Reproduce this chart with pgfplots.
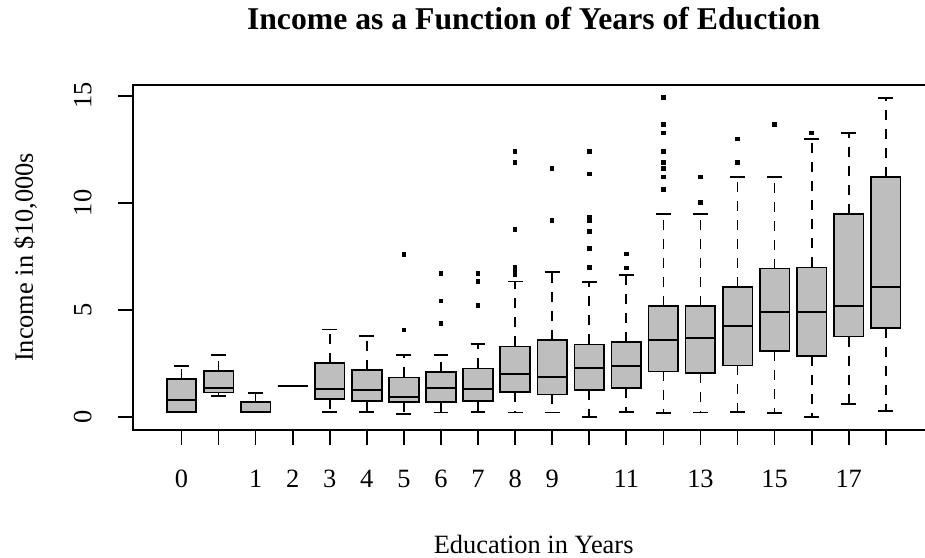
\documentclass[border=0pt]{standalone}
\usepackage{fontspec}
\setmainfont{Liberation Serif}
\usepackage{pgfplots}
\pgfplotsset{compat=1.18}
\usepgfplotslibrary{statistics}
\definecolor{boxgray}{HTML}{BEBEBE}
\newcommand\fsz{\fontsize{13.2}{16}\selectfont}
\begin{document}
\begin{tikzpicture}
\path[use as bounding box] (0,0) rectangle (462.5pt,278.5pt);
\clip (0,0) rectangle (462.5pt,278.5pt);
\begin{axis}[
  at={(66.65pt,63.5pt)}, anchor=south west,
  scale only axis, width=400.35pt, height=172.5pt,
  xmin=-0.3, xmax=21.3, ymin=-0.59, ymax=15.5,
  xtick={1,...,20},
  xticklabels={0,,1,2,3,4,5,6,7,8,9,,11,,13,,15,,17,},
  ytick={0,5,10,15},
  xtick pos=bottom, ytick pos=left,
  tick align=outside, major tick length=7.5pt,
  tick style={black, line width=0.85pt},
  axis line style={line width=0.85pt},
  /pgf/number format/assume math mode=true,
  tick label style={font=\fsz},
  xticklabel style={anchor=base},
  xticklabel shift=21pt,
  yticklabel style={rotate=90, anchor=base},
  yticklabel shift=13.5pt,
  title={Income as a Function of Years of Eduction},
  title style={font=\bfseries\fontsize{15.85}{19}\selectfont, at={(axis description cs:0.5,1)}, anchor=base, yshift=21.5pt},
  xlabel={Education in Years},
  xlabel style={font=\fsz, at={(axis description cs:0.5,0)}, anchor=base, yshift=-61.5pt},
  ylabel={Income in \$10,000s},
  ylabel style={font=\fsz, at={(axis description cs:-0.1253,0.5)}, anchor=base},
  boxplot/draw direction=y,
  boxplot/box extend=0.8,
  boxplot/whisker extend=0.4,
  boxplot/every box/.style={fill=boxgray},
  boxplot/every median/.style={line width=1pt},
  boxplot/draw/lower whisker/.code={%
    \draw[dash pattern=on 5pt off 4.5pt] (boxplot cs:\pgfplotsboxplotvalue{lower quartile}) -- (boxplot cs:\pgfplotsboxplotvalue{lower whisker});
    \draw (boxplot whisker cs:\pgfplotsboxplotvalue{lower whisker},0) -- (boxplot whisker cs:\pgfplotsboxplotvalue{lower whisker},1);
  },
  boxplot/draw/upper whisker/.code={%
    \draw[dash pattern=on 5pt off 4.5pt] (boxplot cs:\pgfplotsboxplotvalue{upper quartile}) -- (boxplot cs:\pgfplotsboxplotvalue{upper whisker});
    \draw (boxplot whisker cs:\pgfplotsboxplotvalue{upper whisker},0) -- (boxplot whisker cs:\pgfplotsboxplotvalue{upper whisker},1);
  },
  every axis plot/.append style={black, line width=0.85pt, mark=square*, mark size=0.7pt, mark options={solid, draw=none, fill=black}},
]
\addplot[boxplot prepared={draw position=1, lower whisker=0.22, lower quartile=0.26, median=0.81, upper quartile=1.78, upper whisker=2.40}] coordinates {};
\addplot[boxplot prepared={draw position=2, lower whisker=0.99, lower quartile=1.16, median=1.38, upper quartile=2.16, upper whisker=2.90}] coordinates {};
\addplot[boxplot prepared={draw position=3, lower whisker=0.25, lower quartile=0.25, median=0.27, upper quartile=0.70, upper whisker=1.12}] coordinates {};
\addplot[boxplot prepared={draw position=4, lower whisker=1.47, lower quartile=1.47, median=1.47, upper quartile=1.47, upper whisker=1.47}] coordinates {};
\addplot[boxplot prepared={draw position=5, lower whisker=0.25, lower quartile=0.85, median=1.32, upper quartile=2.53, upper whisker=4.10}] coordinates {};
\addplot[boxplot prepared={draw position=6, lower whisker=0.25, lower quartile=0.76, median=1.27, upper quartile=2.22, upper whisker=3.80}] coordinates {};
\addplot[boxplot prepared={draw position=7, lower whisker=0.17, lower quartile=0.73, median=0.96, upper quartile=1.86, upper whisker=2.90}] table[row sep=\\, y index=0] {data\\ 7.59\\ 4.07\\};
\addplot[boxplot prepared={draw position=8, lower whisker=0.22, lower quartile=0.71, median=1.36, upper quartile=2.10, upper whisker=2.90}] table[row sep=\\, y index=0] {data\\ 6.72\\ 5.42\\ 4.38\\};
\addplot[boxplot prepared={draw position=9, lower whisker=0.26, lower quartile=0.76, median=1.33, upper quartile=2.28, upper whisker=3.43}] table[row sep=\\, y index=0] {data\\ 6.72\\ 6.33\\ 5.22\\};
\addplot[boxplot prepared={draw position=10, lower whisker=0.23, lower quartile=1.19, median=2.00, upper quartile=3.31, upper whisker=6.33}] table[row sep=\\, y index=0] {data\\ 12.40\\ 11.88\\ 8.76\\ 6.99\\ 6.78\\ 6.66\\};
\addplot[boxplot prepared={draw position=11, lower whisker=0.23, lower quartile=1.07, median=1.86, upper quartile=3.61, upper whisker=6.77}] table[row sep=\\, y index=0] {data\\ 11.60\\ 9.17\\};
\addplot[boxplot prepared={draw position=12, lower whisker=0.01, lower quartile=1.29, median=2.30, upper quartile=3.40, upper whisker=6.32}] table[row sep=\\, y index=0] {data\\ 12.40\\ 11.36\\ 9.33\\ 9.27\\ 9.17\\ 8.66\\ 7.87\\ 6.99\\};
\addplot[boxplot prepared={draw position=13, lower whisker=0.25, lower quartile=1.36, median=2.40, upper quartile=3.52, upper whisker=6.64}] table[row sep=\\, y index=0] {data\\ 7.61\\ 6.97\\};
\addplot[boxplot prepared={draw position=14, lower whisker=0.19, lower quartile=2.14, median=3.60, upper quartile=5.18, upper whisker=9.48}] table[row sep=\\, y index=0] {data\\ 14.92\\ 13.66\\ 13.27\\ 12.40\\ 11.89\\ 11.60\\ 11.22\\ 10.63\\};
\addplot[boxplot prepared={draw position=15, lower whisker=0.23, lower quartile=2.06, median=3.71, upper quartile=5.18, upper whisker=9.48}] table[row sep=\\, y index=0] {data\\ 11.22\\ 10.01\\};
\addplot[boxplot prepared={draw position=16, lower whisker=0.25, lower quartile=2.42, median=4.28, upper quartile=6.08, upper whisker=11.21}] table[row sep=\\, y index=0] {data\\ 12.99\\ 11.89\\};
\addplot[boxplot prepared={draw position=17, lower whisker=0.19, lower quartile=3.09, median=4.89, upper quartile=6.94, upper whisker=11.21}] table[row sep=\\, y index=0] {data\\ 13.66\\};
\addplot[boxplot prepared={draw position=18, lower whisker=0.01, lower quartile=2.87, median=4.89, upper quartile=6.99, upper whisker=12.98}] table[row sep=\\, y index=0] {data\\ 13.27\\};
\addplot[boxplot prepared={draw position=19, lower whisker=0.63, lower quartile=3.77, median=5.18, upper quartile=9.48, upper whisker=13.27}] coordinates {};
\addplot[boxplot prepared={draw position=20, lower whisker=0.29, lower quartile=4.17, median=6.08, upper quartile=11.21, upper whisker=14.89}] coordinates {};
\end{axis}
\end{tikzpicture}
\end{document}
